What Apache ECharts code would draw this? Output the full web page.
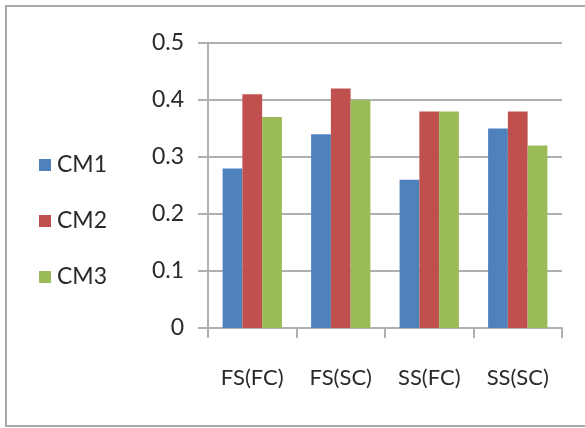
<!DOCTYPE html>
<html>
<head>
<meta charset="utf-8">
<script src="https://cdn.jsdelivr.net/npm/echarts@6/dist/echarts.min.js"></script>
<style>
html,body{margin:0;padding:0;background:#fff;}
#c{width:585px;height:428px;}
</style>
</head>
<body>
<div id="c"></div>
<script>
var categories = ['FS(FC)', 'FS(SC)', 'SS(FC)', 'SS(SC)'];
var seriesNames = ['CM1', 'CM2', 'CM3'];
var cm1 = [0.28, 0.34, 0.26, 0.35];
var cm2 = [0.41, 0.42, 0.38, 0.38];
var cm3 = [0.37, 0.40, 0.38, 0.32];
var colors = ['#4F81BD', '#C0504D', '#9BBB59'];

var FONT = 'Lato, "Open Sans", sans-serif';
var TXT = '#2a2a2a';
var GRID = '#b0b0b0';

var chart = echarts.init(document.getElementById('c'), null, {renderer: 'canvas'});
var values = [cm1, cm2, cm3];
chart.setOption({
  animation: false,
  color: colors,
  graphic: [{
    type: 'rect',
    shape: {x: 6, y: 6, width: 620, height: 420},
    style: {fill: 'none', stroke: '#a8a8a8', lineWidth: 2},
    silent: true
  }],
  legend: {
    orient: 'vertical',
    left: 34,
    top: 148,
    itemWidth: 12,
    itemHeight: 12,
    itemGap: 32,
    icon: 'rect',
    data: seriesNames,
    textStyle: {fontFamily: FONT, fontSize: 23, color: TXT, lineHeight: 24, padding: [0, 0, 0, 1]}
  },
  grid: {left: 208, right: 23, top: 43, bottom: 100, containLabel: false},
  xAxis: {
    type: 'category',
    data: categories,
    axisLine: {show: true, lineStyle: {color: GRID, width: 2}},
    axisTick: {show: true, alignWithLabel: false, length: 10, lineStyle: {color: GRID, width: 2}},
    axisLabel: {fontFamily: FONT, fontSize: 22, color: TXT, margin: 39}
  },
  yAxis: {
    type: 'value',
    min: 0,
    max: 0.5,
    interval: 0.1,
    axisLine: {show: true, lineStyle: {color: GRID, width: 2}},
    axisTick: {show: true, length: 10, lineStyle: {color: GRID, width: 2}},
    splitLine: {show: true, lineStyle: {color: GRID, width: 2}},
    axisLabel: {fontFamily: FONT, fontSize: 23, color: TXT, margin: 24}
  },
  series: seriesNames.map(function (n, i) {
    return {
      name: n,
      type: 'bar',
      data: values[i],
      barGap: 0,
      barCategoryGap: '33%',
      itemStyle: {color: colors[i]}
    };
  })
});
</script>
</body>
</html>
